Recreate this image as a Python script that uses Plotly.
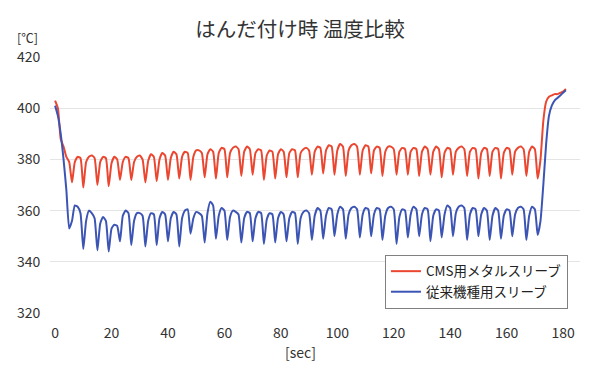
import plotly.graph_objects as go

# time in seconds (one sample per second)
seconds = list(range(0, 182))

# CMS metal sleeve (red)
cms_metal = [
    403, 400, 388, 385, 381, 379, 371, 379, 381, 380.5,
    369, 379, 381, 381.5, 380.5, 370, 379, 381, 380.5, 369.5,
    378.5, 381, 380, 372, 379, 381, 380.5, 372, 379, 381,
    381.5, 380, 371, 379.5, 382, 381, 371.5, 380, 382.5, 381.5,
    372, 380.5, 383, 382, 372.5, 381, 383, 382.5, 372, 381,
    383.5, 383.5, 382.5, 373, 382, 384, 383, 372.5, 382.5, 384.5,
    384, 373, 382.5, 384.5, 385, 384, 373.5, 383, 385, 384,
    374, 382.5, 384, 383.5, 372, 381.5, 383.5, 383, 372.5, 382,
    384, 383, 373, 382.5, 384, 383.5, 373, 382.5, 384, 384.5,
    383.5, 374, 383, 385, 384.5, 374.5, 383.5, 385.5, 385, 374,
    383.5, 386, 385, 373.5, 383.5, 385.5, 386, 385, 374, 383.5,
    385.5, 385, 374.5, 383.5, 385, 384.5, 373.5, 383, 385, 385,
    384, 374, 383, 384.5, 384, 374, 383, 384.5, 384, 373.5,
    383, 385, 384, 374, 383, 385, 384, 373, 382.5, 384.5,
    384, 374, 383, 384.5, 385, 384, 373.5, 383, 384.5, 384,
    372.5, 382.5, 384.5, 384, 373.5, 383, 384.5, 384, 372.5, 382.5,
    384.5, 384, 374, 383, 384.5, 385, 384, 373.5, 383, 385,
    384, 372.5, 380, 395, 402.5, 404.5, 405, 405.5, 405.5, 406,
    406.5, 407.5,
]

# conventional sleeve (blue)
conventional = [
    401, 397, 390, 380, 368, 353, 356, 362, 361.5, 359,
    345, 356, 360, 359, 357, 344.5, 355, 357.5, 356, 344,
    353, 354.5, 354, 348, 358, 360, 359, 346.5, 356, 359,
    359, 358, 346, 356, 359, 358.5, 346.5, 357, 359.5, 358.5,
    348, 357, 359.5, 358.5, 346, 357, 360, 360.5, 351, 357,
    359.5, 359, 358, 347.5, 359, 363.5, 362, 349, 358, 361,
    360, 348.5, 357.5, 360, 359.5, 358.5, 347.5, 357, 359.5, 359,
    348, 357, 359.5, 359, 347, 356.5, 359, 358.5, 347.5, 357,
    359.5, 358.5, 348, 357, 359.5, 359, 347, 357, 359.5, 360,
    359, 348.5, 358, 361, 360, 349, 358, 361, 360.5, 350,
    358.5, 361.5, 360.5, 349, 358.5, 361, 361.5, 360.5, 349.5, 358.5,
    361, 360.5, 350, 358.5, 361, 360.5, 348.5, 358, 361, 361.5,
    360.5, 347, 357.5, 360.5, 360, 349.5, 358.5, 361.5, 360.5, 350,
    358.5, 361, 360.5, 348, 358, 360.5, 360, 349.5, 358.5, 362,
    361, 350, 359, 361.5, 362, 361, 348.5, 358.5, 361, 360.5,
    350, 358.5, 361, 360, 348.5, 358, 361, 360, 349, 358,
    360.5, 360, 350, 358.5, 361, 361.5, 360.5, 348.5, 358, 361.5,
    360.5, 350.5, 356, 370, 386, 397, 401, 403, 404, 405,
    406, 407,
]

series_names = ["CMS用メタルスリーブ", "従来機種用スリーブ"]
y_ticks = [320, 340, 360, 380, 400, 420]
x_ticks = [0, 20, 40, 60, 80, 100, 120, 140, 160, 180]

FONT = "Noto Sans CJK JP"

fig = go.Figure()
fig.add_trace(go.Scatter(
    x=seconds, y=cms_metal, mode="lines", name=series_names[0],
    line=dict(color="#ea4630", width=2, shape="spline", smoothing=0.5),
))
fig.add_trace(go.Scatter(
    x=seconds, y=conventional, mode="lines", name=series_names[1],
    line=dict(color="#3c55b4", width=2, shape="spline", smoothing=0.5),
))

fig.update_layout(
    width=600, height=367,
    margin=dict(l=50, r=20, t=57, b=54),
    paper_bgcolor="white", plot_bgcolor="white",
    font=dict(family=FONT, size=14, color="#333333"),
    title=dict(text="はんだ付け時 温度比較", x=0.5, xref="container",
               y=0.918, yref="container", yanchor="middle",
               font=dict(family=FONT, size=20.5, color="#333333")),
    showlegend=True,
    legend=dict(x=0.632, y=0.227, xanchor="left", yanchor="top",
                bgcolor="white", bordercolor="#808080", borderwidth=1,
                font=dict(family=FONT, size=13.5, color="#222222"),
                tracegroupgap=4),
    xaxis=dict(range=[-1.8, 186], tickvals=x_ticks, showgrid=False,
               zeroline=False, showline=False, ticks="outside", ticklen=7,
               tickcolor="rgba(0,0,0,0)", tickfont=dict(size=14)),
    yaxis=dict(range=[320, 420], tickvals=y_ticks, showgrid=True,
               gridcolor="#e4e4e4", gridwidth=1, zeroline=False,
               showline=False, ticks="outside", ticklen=6,
               tickcolor="rgba(0,0,0,0)", tickfont=dict(size=14)),
    annotations=[
        dict(text="[℃]", xref="paper", yref="paper", x=-0.043, y=1.078,
             xanchor="center", yanchor="middle", showarrow=False,
             font=dict(family=FONT, size=12.5, color="#333333")),
        dict(text="[sec]", xref="paper", yref="paper", x=0.472, y=-0.152,
             xanchor="center", yanchor="middle", showarrow=False,
             font=dict(family=FONT, size=14, color="#333333")),
    ],
)

fig.write_html("out.html", config={"displayModeBar": False},
               post_script="document.body.style.margin='0px';")
